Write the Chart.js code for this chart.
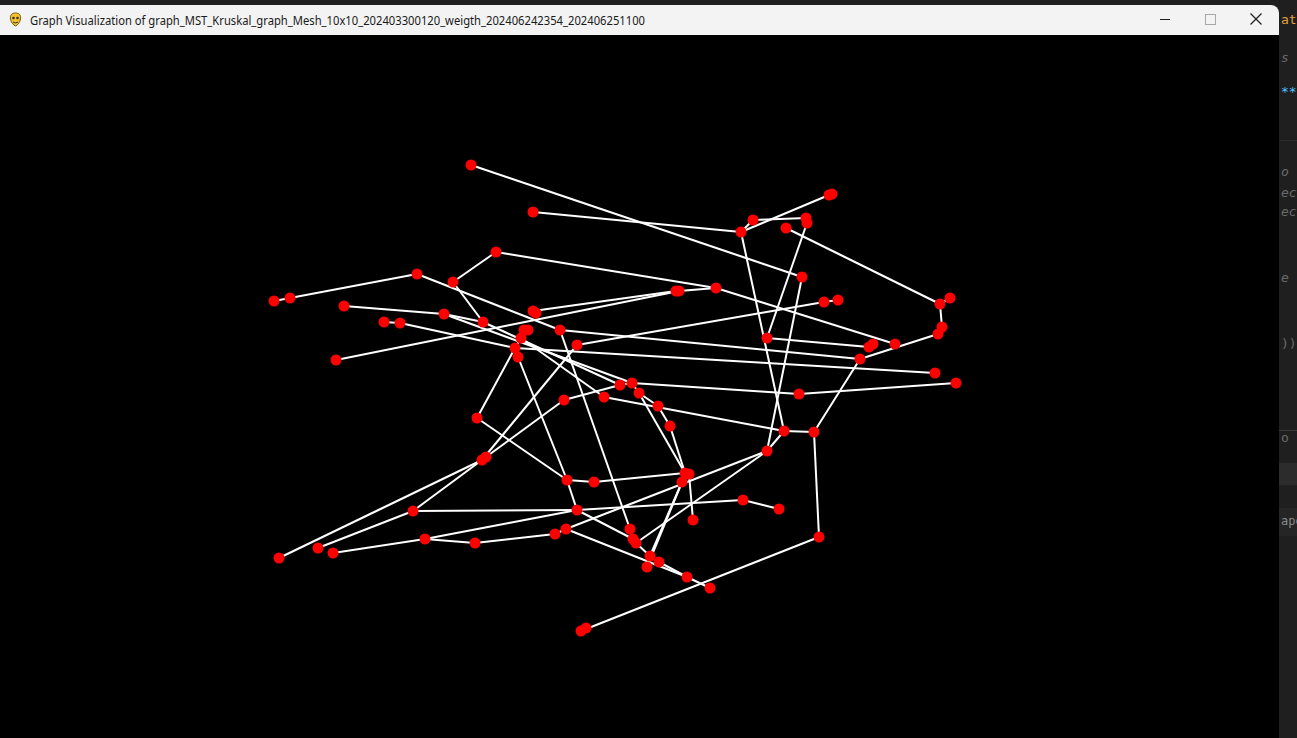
<!DOCTYPE html>
<html>
<head>
<meta charset="utf-8">
<script src="https://cdn.jsdelivr.net/npm/chart.js@4.4.1/dist/chart.umd.min.js"></script>
<style>
  html,body{margin:0;padding:0;width:1297px;height:738px;overflow:hidden;background:#1f1f1f;}
  #editor{position:absolute;left:1279px;top:0;width:18px;height:738px;background:#1f1f1f;overflow:hidden;font-family:"DejaVu Sans Mono",monospace;font-size:13px;color:#6a6a6a;}
  #editor div{position:absolute;left:2px;white-space:nowrap;}
  #win{position:absolute;left:0;top:5px;width:1279px;height:733px;background:#000;border-top-right-radius:8px;overflow:hidden;}
  #titlebar{position:absolute;left:0;top:0;width:1279px;height:30px;background:#f3f3f3;}
  #title{position:absolute;left:30px;top:7px;font-family:"Noto Sans","Open Sans",sans-serif;font-size:12px;color:#1a1a1a;white-space:nowrap;transform-origin:0 0;}
  #icon{position:absolute;left:8px;top:7px;width:15px;height:15px;}
  .ctl{position:absolute;top:0;height:30px;width:46px;}
  #wrap{position:absolute;left:0;top:0;width:1297px;height:738px;}
</style>
</head>
<body>
<div id="editor">
  <div style="top:12px;color:#e0a040;">at:</div>
  <div style="top:50px;font-style:italic;">s</div>
  <div style="top:84px;color:#4fc1ff;">**</div>
  <div style="top:140px;left:0;width:18px;height:1px;background:#2a2a2a;"></div>
  <div style="top:164px;font-style:italic;">o</div>
  <div style="top:185px;font-style:italic;">ect</div>
  <div style="top:204px;font-style:italic;">ect</div>
  <div style="top:270px;font-style:italic;">e</div>
  <div style="top:336px;">))</div>
  <div style="top:430px;">o</div>
  <div style="top:430px;left:0;width:18px;height:1px;background:#3a3a3a;"></div>
  <div style="top:463px;left:0;width:18px;height:22px;background:#2c2c2c;"></div>
  <div style="top:508px;left:0;width:18px;height:28px;background:#252526;"></div>
  <div style="top:514px;color:#8a8a8a;font-size:12px;">ape</div>
</div>
<div id="win">
  <div id="titlebar">
    <svg id="icon" viewBox="0 0 15 15"><path d="M7.5 1 C3 1 2 4 2.5 7 C3 10 5 13 7.5 14 C10 13 12 10 12.5 7 C13 4 12 1 7.5 1Z" fill="#f2c230" stroke="#7a5a10" stroke-width="1"/><circle cx="5.5" cy="6" r="1.3" fill="#333"/><circle cx="9.5" cy="6" r="1.3" fill="#333"/><path d="M5 10 Q7.5 12 10 10" stroke="#333" stroke-width="1" fill="none"/></svg>
    <span id="title">Graph Visualization of graph_MST_Kruskal_graph_Mesh_10x10_202403300120_weigth_202406242354_202406251100</span>
    <svg class="ctl" style="left:1142px" viewBox="0 0 46 30"><line x1="18" y1="14.5" x2="28" y2="14.5" stroke="#222" stroke-width="1"/></svg>
    <svg class="ctl" style="left:1187px" viewBox="0 0 46 30"><rect x="18.5" y="9.5" width="10" height="10" fill="none" stroke="#a8a8a8" stroke-width="1"/></svg>
    <svg class="ctl" style="left:1233px" viewBox="0 0 46 30"><line x1="17.5" y1="8.5" x2="28.5" y2="19.5" stroke="#222" stroke-width="1.2"/><line x1="28.5" y1="8.5" x2="17.5" y2="19.5" stroke="#222" stroke-width="1.2"/></svg>
  </div>
</div>
<div id="wrap"><canvas id="c" width="1297" height="738"></canvas></div>
<script>
// node layout coordinates (screen-space graph layout)
const nodeX = [471,533,496,417,453,274,290,344,444,533,536,384,400,483,524,528,560,577,336,521,515,518,829,832,753,806,807,741,786,802,716,676,679,824,838,940,950,942,938,767,895,869,873,860,935,956,620,632,604,639,658,670,564,477,482,486,567,594,413,577,566,555,425,475,318,333,279,581,586,799,784,814,767,685,689,682,693,743,779,819,630,633,636,650,659,647,687,710];
const nodeY = [165,212,252,274,282,301,298,306,314,311,313,322,323,322,330,330,330,345,360,338,348,357,195,194,220,218,223,232,228,277,288,291,291,302,300,304,298,327,334,338,344,347,344,359,373,383,385,383,397,393,406,426,400,418,460,457,480,482,511,510,529,534,539,543,548,553,558,631,628,394,431,432,451,473,474,482,520,500,509,537,529,539,543,556,562,567,577,588];
// edges as [from, to] node indices
const edgeFrom = [0,1,2,2,3,5,3,4,7,8,8,13,9,9,18,31,32,30,11,12,16,16,17,17,20,20,21,19,22,22,24,24,25,26,27,29,28,35,35,37,38,33,39,41,43,47,69,46,47,49,50,51,49,73,74,73,75,73,56,48,70,70,71,79,67,72,72,59,77,58,58,55,54,58,52,52,53,65,62,62,63,61,60,56,59,81,80,83,84,85,86,14,14,19,20];
const edgeTo   = [29,27,30,4,6,6,16,13,8,13,47,46,31,10,32,32,30,40,12,20,43,80,33,54,53,44,56,48,23,27,27,25,26,39,70,72,35,36,37,38,43,34,41,42,71,69,45,47,49,50,51,73,73,74,76,75,83,57,57,70,71,72,79,67,68,60,82,77,78,59,55,54,66,64,46,55,56,62,59,63,61,60,86,59,81,82,81,82,86,75,87,15,19,20,21];

const nodes = nodeX.map((x,i)=>({x:x,y:nodeY[i]}));
const datasets = [{
  type:'scatter', data:nodes, pointRadius:5.5, pointHoverRadius:5.5,
  pointBackgroundColor:'#ff0000', pointBorderWidth:0, showLine:false, order:0
}];
edgeFrom.forEach((a,i)=>{
  const b = edgeTo[i];
  datasets.push({type:'scatter', data:[nodes[a],nodes[b]], showLine:true,
    borderColor:'#ffffff', borderWidth:2, pointRadius:0, pointHoverRadius:0, fill:false, order:1});
});

new Chart(document.getElementById('c'), {
  type:'scatter',
  data:{datasets:datasets},
  options:{
    responsive:false, animation:false, events:[],
    layout:{padding:0, autoPadding:false},
    plugins:{legend:{display:false}, tooltip:{enabled:false}},
    scales:{
      x:{type:'linear', min:0, max:1297, display:false},
      y:{type:'linear', min:0, max:738, reverse:true, display:false}
    }
  }
});

// fit title width to reference (~615px)
const t = document.getElementById('title');
const w = t.getBoundingClientRect().width;
if (w>0) t.style.transform = 'scaleX(' + (615/w) + ')';
</script>
</body>
</html>
